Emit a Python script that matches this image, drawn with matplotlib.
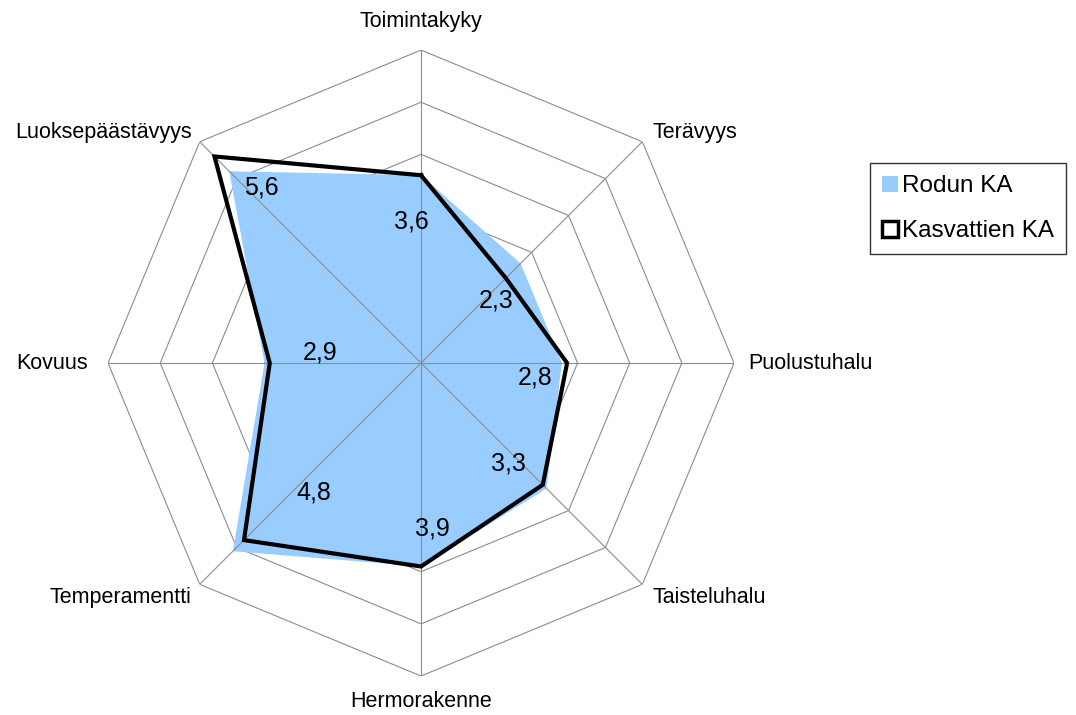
import matplotlib.pyplot as plt
import numpy as np
from matplotlib.patches import Patch

plt.rcParams['font.family'] = ['Liberation Sans', 'DejaVu Sans']

categories = ['Toimintakyky', 'Terävyys', 'Puolustuhalu', 'Taisteluhalu',
              'Hermorakenne', 'Temperamentti', 'Kovuus', 'Luoksepäästävyys']
rodun_ka = [3.6, 2.7, 2.7, 3.4, 3.9, 5.1, 3.0, 5.2]
kasvattien_ka = [3.6, 2.3, 2.8, 3.3, 3.9, 4.8, 2.9, 5.6]
rings = [1, 2, 3, 4, 5, 6]

n = len(categories)
angles = np.arange(n) * 2 * np.pi / n
ang_c = np.append(angles, angles[0])

fig = plt.figure(figsize=(10.76, 7.15), dpi=100)
ax = fig.add_axes([0.1004, 0.0545, 0.5818, 0.8755], projection='polar')
ax.set_theta_offset(np.pi / 2)
ax.set_theta_direction(-1)
ax.set_ylim(0, 6)
ax.grid(False)
ax.spines['polar'].set_visible(False)
ax.set_xticks([])
ax.set_yticks([])

# octagon rings sit under the blue area, spokes above it
for r in rings:
    ax.plot(ang_c, [r] * (n + 1), color='#8c8c8c', lw=0.8, zorder=1)

ax.fill(ang_c, np.append(rodun_ka, rodun_ka[0]), color='#99ccff', lw=0, zorder=2)

for a in angles:
    ax.plot([a, a], [0, rings[-1]], color='#8c8c8c', lw=0.8, zorder=3)

ax.plot(ang_c, np.append(kasvattien_ka, kasvattien_ka[0]), color='black',
        lw=3, solid_joinstyle='miter', zorder=4)

# value labels
val_off = [(-10, -46), (-10, -22), (-32, -14), (-34, 21),
           (11, 38), (70, 48), (50, 11), (47, -31)]
for a, v, off in zip(angles, kasvattien_ka, val_off):
    ax.annotate(f'{v:.1f}'.replace('.', ','), xy=(a, v), xytext=off,
                textcoords='offset pixels', ha='center', va='center',
                fontsize=18, zorder=5)

# category labels
cat_off = [(0, 29), (10, 9), (14, 0), (10, -13),
           (0, -25), (-8, -13), (-20, 0), (-8, 9)]
cat_ha = ['center', 'left', 'left', 'left', 'center', 'right', 'right', 'right']
for a, c, off, h in zip(angles, categories, cat_off, cat_ha):
    ax.annotate(c, xy=(a, rings[-1]), xytext=off, textcoords='offset pixels',
                ha=h, va='center', fontsize=15.5, annotation_clip=False)

handles = [Patch(facecolor='#99ccff', edgecolor='none', label='Rodun KA'),
           Patch(facecolor='white', edgecolor='black', linewidth=2.5, label='Kasvattien KA')]
leg = fig.legend(handles=handles, loc='upper left',
                 bbox_to_anchor=(870 / 1076, 1 - 163 / 715),
                 fontsize=17.5, frameon=True, fancybox=False,
                 handlelength=0.65, handleheight=0.65, handletextpad=0.15,
                 labelspacing=0.95, borderpad=0.5, borderaxespad=0)
leg.get_frame().set_edgecolor('black')
leg.get_frame().set_linewidth(1)

fig.savefig('out.png', dpi=100)
